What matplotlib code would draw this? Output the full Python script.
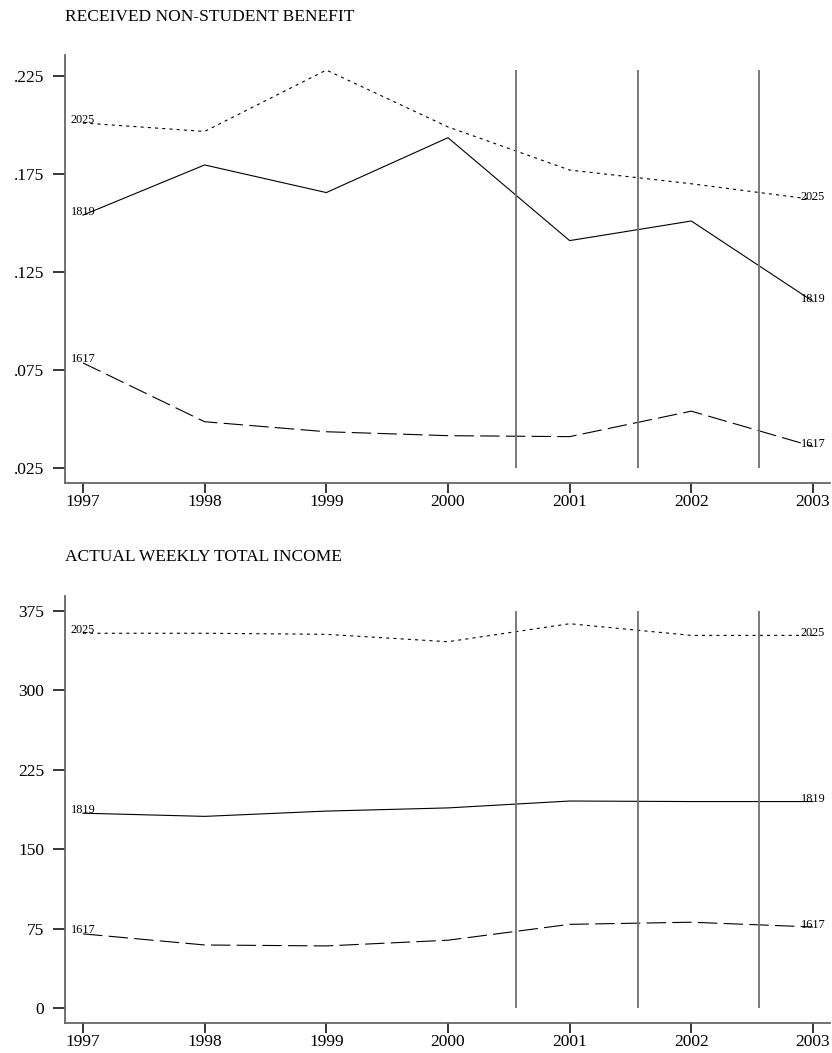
import numpy as np
import matplotlib
matplotlib.use('Agg')
import matplotlib.pyplot as plt

plt.rcParams['font.family'] = ['Liberation Serif', 'DejaVu Serif']
plt.rcParams['lines.scale_dashes'] = False

# Anos e grupos de idade
anos = [1997, 1998, 1999, 2000, 2001, 2002, 2003]
grupos = ['1617', '1819', '2025']

# Proporcao que recebe beneficio (nao estudante)
benef_1617 = [0.0786, 0.0486, 0.0435, 0.0415, 0.0410, 0.0540, 0.0360]
benef_1819 = [0.1540, 0.1796, 0.1655, 0.1935, 0.1410, 0.1510, 0.1100]
benef_2025 = [0.2010, 0.1967, 0.2280, 0.1990, 0.1770, 0.1700, 0.1620]

# Renda semanal total
renda_1617 = [70.0, 59.5, 58.6, 64.0, 79.0, 81.0, 76.5]
renda_1819 = [184.0, 181.0, 186.0, 189.0, 195.5, 195.0, 195.0]
renda_2025 = [354.0, 354.0, 353.0, 346.0, 363.0, 352.0, 352.0]

# Mudancas de politica (linhas verticais)
marcos = [2000.56, 2001.56, 2002.56]

ticks_benef = [0.025, 0.075, 0.125, 0.175, 0.225]
rotulos_benef = ['.025', '.075', '.125', '.175', '.225']
ticks_renda = [0, 75, 150, 225, 300, 375]
rotulos_renda = ['0', '75', '150', '225', '300', '375']

estilos = {
    '1617': (0, (14, 4.5)),
    '1819': '-',
    '2025': (0, (2.2, 3.0)),
}

cinza = '#666666'

fig = plt.figure(figsize=(8.32, 10.53), dpi=100)
ax1 = fig.add_axes([0.0781, 0.5413, 0.9195, 0.4065])
ax2 = fig.add_axes([0.0781, 0.0285, 0.9195, 0.4055])


def painel(ax, series, ticks, rotulos, ylim, vfaixa, titulo, ytitulo):
    for g, vals in zip(grupos, series):
        ax.plot(anos, vals, color='black', lw=0.8, linestyle=estilos[g])
        # rotulos nas pontas
        ax.annotate(g, (anos[0], vals[0]), xytext=(0, 2.5), textcoords='offset points',
                    ha='center', va='center', fontsize=8.8)
        ax.annotate(g, (anos[-1], vals[-1]), xytext=(0, 1.5), textcoords='offset points',
                    ha='center', va='center', fontsize=8.8)
    ax.vlines(marcos, vfaixa[0], vfaixa[1], color='#707070', lw=1.3)
    ax.set_xlim(1996.852, 2003.14)
    ax.set_ylim(*ylim)
    ax.set_xticks(anos)
    ax.set_xticklabels([str(a) for a in anos])
    ax.set_yticks(ticks)
    ax.set_yticklabels(rotulos)
    for lado in ['top', 'right']:
        ax.spines[lado].set_visible(False)
    for lado in ['left', 'bottom']:
        ax.spines[lado].set_color(cinza)
        ax.spines[lado].set_linewidth(1.3)
    ax.tick_params(axis='y', length=9, width=1.1, color='black', pad=6, labelsize=12.5)
    ax.tick_params(axis='x', length=7, width=1.1, color='black', pad=1, labelsize=12.5)
    fig.text(0.0781, ytitulo, titulo, fontsize=12.5, ha='left', va='center')


painel(ax1, [benef_1617, benef_1819, benef_2025], ticks_benef, rotulos_benef,
       (0.01735, 0.2357), (0.025, 0.228), 'RECEIVED NON-STUDENT BENEFIT', 1 - 17 / 1053)
painel(ax2, [renda_1617, renda_1819, renda_2025], ticks_renda, rotulos_renda,
       (-14.2, 389.2), (0, 375), 'ACTUAL WEEKLY TOTAL INCOME', 1 - 557 / 1053)

fig.savefig('out.png', dpi=100)
